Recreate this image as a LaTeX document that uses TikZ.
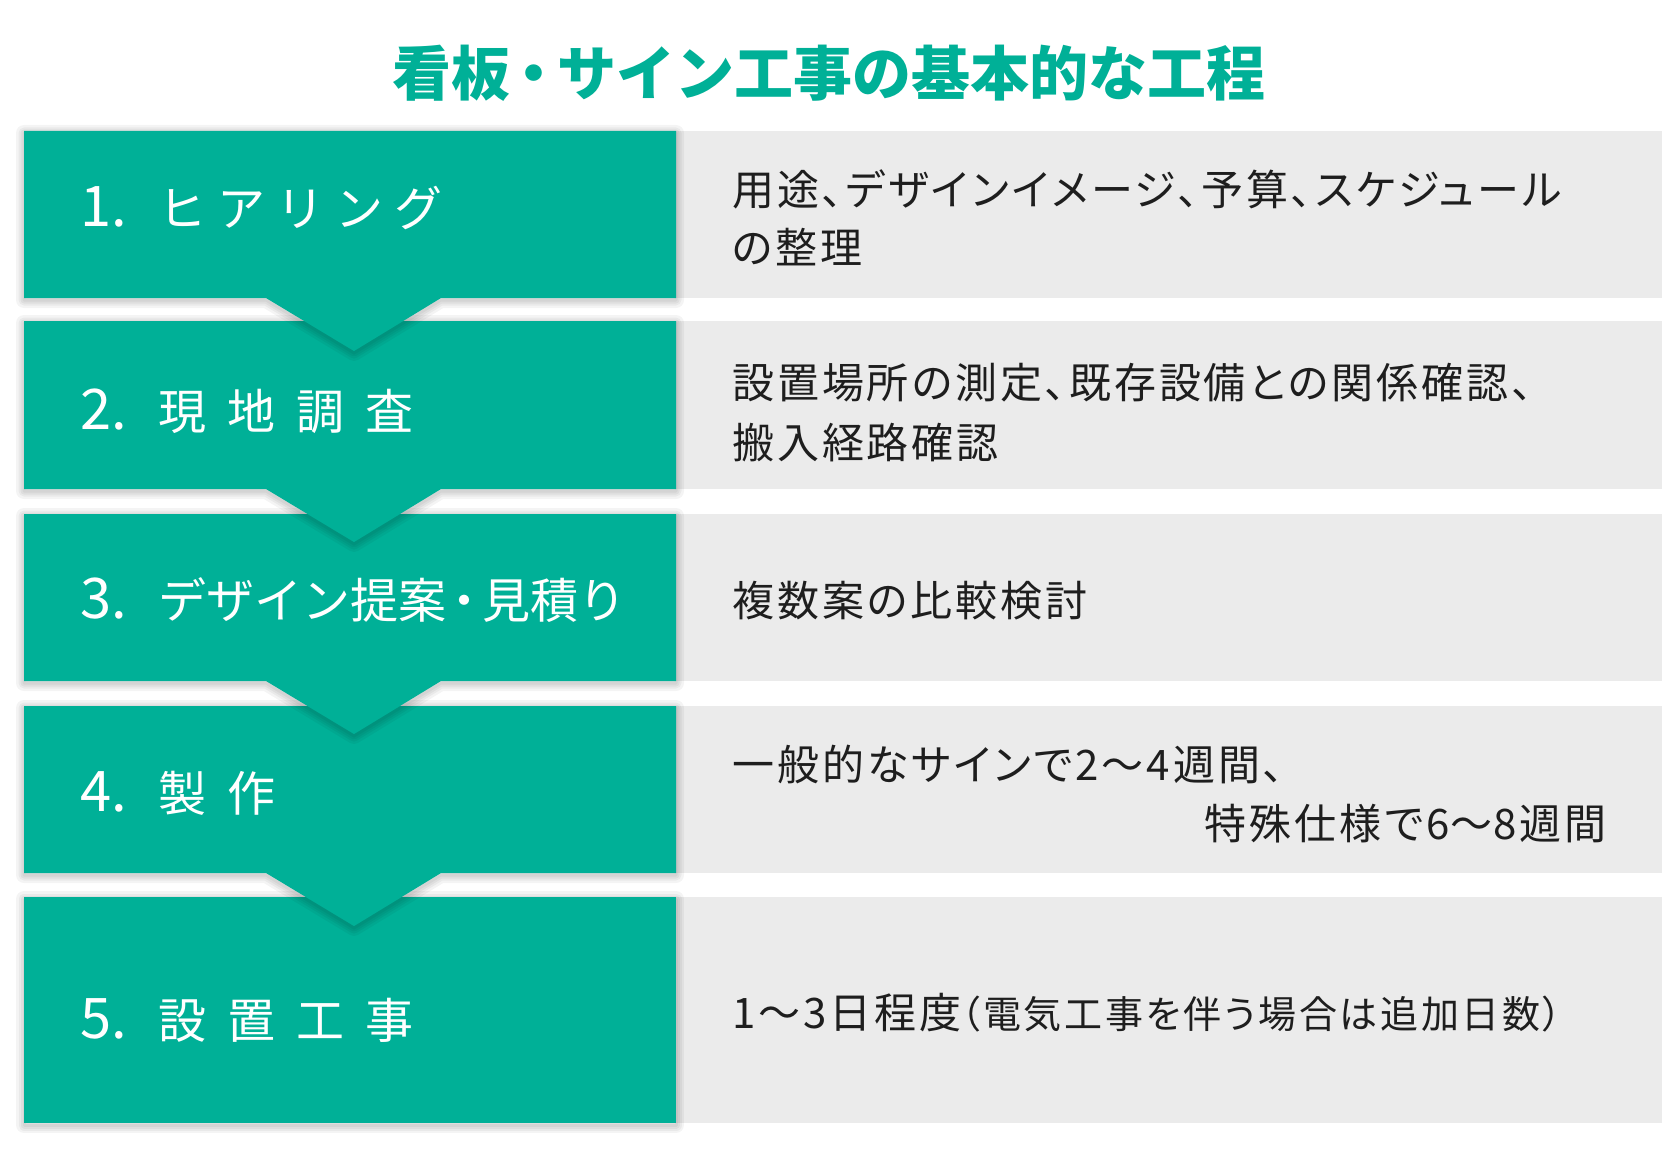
\documentclass[tikz,border=0pt]{standalone}
\usepackage{fontspec}
\setmainfont{Noto Sans CJK JP}
\newfontfamily\rfont[LetterSpace=7,RawFeature=+palt]{Noto Sans CJK JP}
\definecolor{tealg}{HTML}{00B097}
\definecolor{grayrow}{HTML}{EBEBEB}
\definecolor{txtc}{HTML}{1E1E1E}
\newcommand\lgap{\hspace{21pt}}
\newcommand\kgap{\hspace{11pt}}
\begin{document}
\begin{tikzpicture}[x=1pt,y=-1pt,
  rowbg/.style={fill=grayrow,draw=none},
  greenfill/.style={fill=tealg,draw=none},
  shadowline/.style={draw=black,opacity=0.045,line join=round,fill=none},
  numlab/.style={text=white,font=\fontsize{56}{56}\selectfont,anchor=base west,inner sep=0pt},
  jlab/.style={text=white,font=\fontsize{48}{48}\selectfont,anchor=base west,inner sep=0pt},
  desc/.style={text=txtc,font=\rfont\fontsize{42}{42}\selectfont,anchor=base west,inner sep=0pt},
  titlestyle/.style={text=tealg,font=\bfseries\fontsize{59}{59}\selectfont,inner sep=0pt}
]
\useasboundingbox[fill=white] (0,0) rectangle (1680,1150);
% title
\node[titlestyle] (title) at (829,73) {看板\hspace{-6pt}・\hspace{-6pt}サイン工事の基本的な工程};
% gray rows
\foreach \t/\b in {131/298,321/489,514/681,706/873,897/1123}
  \fill[rowbg] (676,\t) rectangle (1662,\b);
% row 5 green (no arrow)
\foreach \w in {16,11,7,3}
  \draw[shadowline,line width=\w pt,yshift=-2pt] (24,897) rectangle (676,1123);
\fill[greenfill] (24,897) rectangle (676,1123);
% rows 4..1 with arrow
\foreach \t/\b in {706/873,514/681,321/489,131/298}{
  \foreach \w in {16,11,7,3}
    \draw[shadowline,line width=\w pt,yshift=-2pt] (24,\t) -- (676,\t) -- (676,\b) -- (441,\b) -- (354,{\b+53}) -- (266,\b) -- (24,\b) -- cycle;
  \fill[greenfill] (24,\t) -- (676,\t) -- (676,\b) -- (441,\b) -- (354,{\b+53}) -- (266,\b) -- (24,\b) -- cycle;
}
% left labels
\node[numlab] (n1) at (80,227) {1.};
\node[jlab] (l1) at (158,227) {ヒ\kgap ア\kgap リ\kgap ン\kgap グ};
\node[numlab] (n2) at (80,429) {2.};
\node[jlab] (l2) at (158,429) {現\lgap 地\lgap 調\lgap 査};
\node[numlab] (n3) at (80,618) {3.};
\node[jlab] (l3) at (158,618) {デザイン提案\hspace{-6pt}・\hspace{-6pt}見積り};
\node[numlab] (n4) at (80,811) {4.};
\node[jlab] (l4) at (158,811) {製\lgap 作};
\node[numlab] (n5) at (80,1038) {5.};
\node[jlab] (l5) at (158,1038) {設\lgap 置\lgap 工\lgap 事};
% descriptions
\node[desc] (d1a) at (732,206) {用途、デザインイメージ、予算、スケジュール};
\node[desc] (d1b) at (732,263) {の整理};
\node[desc] (d2a) at (732,398) {設置場所の測定、既存設備との関係確認、};
\node[desc] (d2b) at (732,458) {搬入経路確認};
\node[desc] (d3a) at (732,616) {複数案の比較検討};
\node[desc] (d4a) at (732,780) {一般的なサインで2〜4週間、};
\node[desc,anchor=base east] (d4b) at (1607,839) {特殊仕様で6\hspace{1pt}〜\hspace{1pt}8週間};
\node[desc] (d5a) at (732,1028) {1〜3日程度{\fontsize{38}{38}\selectfont（電気工事を伴う場合は追加日数）}};
\end{tikzpicture}
\end{document}
